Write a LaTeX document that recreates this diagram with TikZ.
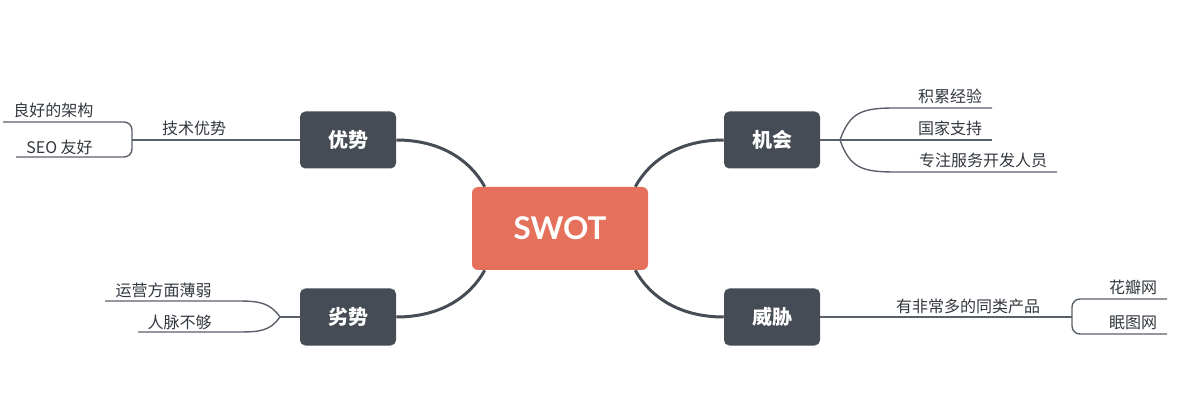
\documentclass[tikz,border=0pt]{standalone}
\usepackage{fontspec}
\setmainfont{Noto Sans CJK SC}
\newfontfamily\latofont{Lato}
\usetikzlibrary{calc}
\definecolor{nodegray}{HTML}{454C55}
\definecolor{swotred}{HTML}{E5705C}
\definecolor{linegray}{HTML}{5A6069}
\definecolor{labelgray}{HTML}{33383F}
\tikzset{
  darkbox/.style={fill=nodegray, rounded corners=4pt, minimum width=72pt, minimum height=42.75pt,
    text=white, font=\fontsize{15}{18}\selectfont\bfseries, inner sep=0pt},
  swotbox/.style={fill=swotred, rounded corners=4.5pt, minimum width=132pt, minimum height=62.25pt,
    text=white, font=\latofont\fontsize{23.5}{28}\selectfont\bfseries, inner sep=0pt},
  conn/.style={draw=nodegray, line width=2.25pt},
  thinline/.style={draw=linegray, line width=1.05pt},
  lbl/.style={text=labelgray, font=\fontsize{12}{14}\selectfont, inner sep=0pt}
}
\begin{document}
\begin{tikzpicture}[x=0.75pt, y=-0.75pt]
\useasboundingbox (0,0) rectangle (1185,413);
% main nodes
\node[swotbox] (swot) at (560,228.5) {SWOT};
\node[darkbox] (ys) at (348,140) {优势};
\node[darkbox] (jh) at (772,140) {机会};
\node[darkbox] (ls) at (348,317) {劣势};
\node[darkbox] (wx) at (772,317) {威胁};
% thick connectors
\draw[conn] (ys.east) .. controls +(44,0) and +(-15,-27) .. ($(swot.north west)+(13,0)$);
\draw[conn] (jh.west) .. controls +(-44,0) and +(15,-27) .. ($(swot.north east)+(-13,0)$);
\draw[conn] (ls.east) .. controls +(44,0) and +(-15,27) .. ($(swot.south west)+(13,0)$);
\draw[conn] (wx.west) .. controls +(-44,0) and +(15,27) .. ($(swot.south east)+(-13,0)$);
% labels
\node[lbl] (jsys) at (194,128) {技术优势};
\node[lbl] (lhjg) at (53.5,110) {良好的架构};
\node[lbl] (seo) at (59.5,147.5) {SEO 友好};
\node[lbl] (jljy) at (950,96) {积累经验};
\node[lbl] (gjzc) at (950,128) {国家支持};
\node[lbl] (zzfw) at (983,160) {专注服务开发人员};
\node[lbl] (yyfm) at (163.5,290) {运营方面薄弱};
\node[lbl] (rmbg) at (179.5,322) {人脉不够};
\node[lbl] (yfcd) at (968,306) {有非常多的同类产品};
\node[lbl] (hbw) at (1133,287) {花瓣网};
\node[lbl] (mtw) at (1133,323) {眠图网};
% junction coordinates
\coordinate (ysj) at (132,140);
\coordinate (jhj) at (840,140);
\coordinate (lsj) at (280,317);
\coordinate (wxj) at (1072,317);
% upper left
\draw[thinline] (ys.west) -- (ysj);
\draw[thinline, rounded corners=6pt] (3,122) -- (ysj |- 0,122) -- (ysj |- 0,157) -- (16,157);
% upper right
\draw[thinline] (jh.east) -- (992,140);
\draw[thinline] (jhj) .. controls (850,112) and (862,108) .. (895,108) -- (992,108);
\draw[thinline] (jhj) .. controls (850,168) and (862,172) .. (895,172) -- (1057,172);
% lower left
\draw[thinline] (ls.west) -- (lsj);
\draw[thinline] (lsj) .. controls (270,303) and (260,301) .. (238,301) -- (105,301);
\draw[thinline] (lsj) .. controls (270,331) and (260,332) .. (238,332) -- (138,332);
% lower right
\draw[thinline] (wx.east) -- (wxj);
\draw[thinline, rounded corners=6pt] (1167,299) -- (wxj |- 0,299) -- (wxj |- 0,334) -- (1167,334);
\end{tikzpicture}
\end{document}
